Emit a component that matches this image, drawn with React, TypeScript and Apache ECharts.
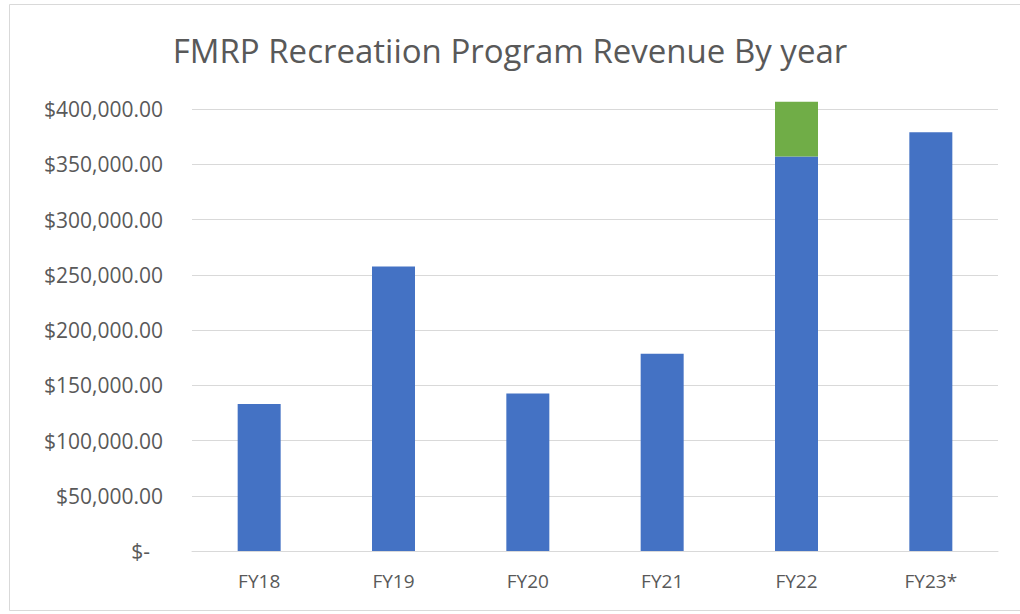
import React, { useEffect, useRef } from "react";
import * as echarts from "echarts";

const categories = ["FY18", "FY19", "FY20", "FY21", "FY22", "FY23*"];
const baseRevenue = [133000, 257500, 142500, 178500, 357000, 379000];
const extraRevenue = [0, 0, 0, 0, 49500, 0];
const yTicks = [0, 50000, 100000, 150000, 200000, 250000, 300000, 350000, 400000];

const fmt = (v: number) =>
  v === 0
    ? "{z|$-}"
    : "$" + v.toLocaleString("en-US", { minimumFractionDigits: 2, maximumFractionDigits: 2 });

export default function App() {
  const ref = useRef<HTMLDivElement>(null);
  useEffect(() => {
    if (!ref.current) return;
    const chart = echarts.init(ref.current, undefined, { renderer: "svg" });
    const font = "Open Sans, Noto Sans, sans-serif";
    chart.setOption({
      animation: false,
      backgroundColor: "#ffffff",
      title: {
        text: "FMRP Recreatiion Program Revenue By year",
        left: "center",
        top: 29,
        textStyle: { fontFamily: font, fontSize: 33, fontWeight: "normal", color: "#595959" },
      },
      graphic: [
        {
          type: "rect",
          shape: { x: 9.5, y: 4.5, width: 1020, height: 606 },
          style: { fill: "none", stroke: "#d9d9d9", lineWidth: 1 },
          silent: true,
        },
      ],
      grid: { left: 192, right: 22, top: 109, bottom: 63, containLabel: false },
      xAxis: {
        type: "category",
        data: categories,
        axisLine: { show: true, lineStyle: { color: "#d9d9d9", width: 1 } },
        axisTick: { show: false },
        axisLabel: { fontFamily: font, fontSize: 19, color: "#595959", margin: 20 },
      },
      yAxis: {
        type: "value",
        min: yTicks[0],
        max: yTicks[yTicks.length - 1],
        interval: 50000,
        axisLine: { show: false },
        axisTick: { show: false },
        splitLine: { lineStyle: { color: "#d9d9d9", width: 1 } },
        axisLabel: {
          fontFamily: font,
          fontSize: 21,
          color: "#595959",
          margin: 29,
          formatter: fmt,
          rich: { z: { fontFamily: font, fontSize: 21, color: "#595959", padding: [0, 13, 0, 0] } },
        },
      },
      series: [
        {
          type: "bar",
          stack: "rev",
          data: baseRevenue,
          barWidth: 43,
          clip: false,
          itemStyle: { color: "#4472C4" },
        },
        {
          type: "bar",
          stack: "rev",
          data: extraRevenue,
          barWidth: 43,
          clip: false,
          itemStyle: { color: "#70AD47" },
        },
      ],
    });
    return () => chart.dispose();
  }, []);
  return (
    <div
      ref={ref}
      style={{ position: "absolute", left: 0, top: 0, width: 1020, height: 614 }}
    />
  );
}
